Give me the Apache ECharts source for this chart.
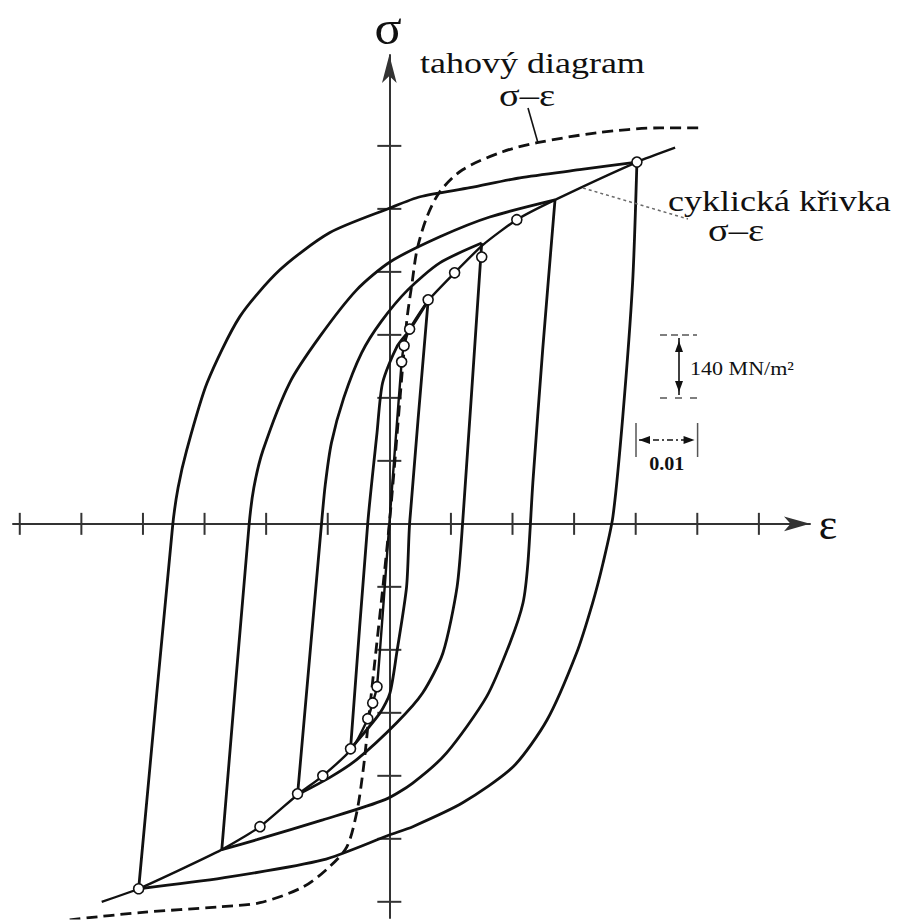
<!DOCTYPE html>
<html>
<head>
<meta charset="utf-8">
<script src="https://cdn.jsdelivr.net/npm/echarts/dist/echarts.min.js"></script>
<style>
html,body{margin:0;padding:0;background:#fff;}
#chart{width:897px;height:922px;}
</style>
</head>
<body>
<div id="chart"></div>
<script>
// strain (-) on x, stress (MN/m2) on y
const xTicks = [-0.06,-0.05,-0.04,-0.03,-0.02,-0.01,0.01,0.02,0.03,0.04,0.05,0.06]
const yTicks = [-840,-700,-560,-420,-280,-140,140,280,420,560,700,840]

// tahovy diagram (dashed)
const tensileCurve = [[-0.0519,-880],[-0.0405,-864],[-0.0275,-851],[-0.0210,-842],[-0.0140,-807],[-0.0097,-762],[-0.0069,-718],[-0.0053,-642],[-0.0043,-553],[-0.0037,-480],[-0.0035,-451],[0,0],[0.0028,447],[0.0037,536],[0.0045,609],[0.0061,682],[0.0082,738],[0.0119,787],[0.0184,827],[0.0240,847],[0.0337,869],[0.0439,880],[0.0504,880]]

// cyklicka krivka
const cyclicCurve = [[-0.0467,-840],[-0.0407,-811],[-0.0272,-724],[-0.0210,-673],[-0.0149,-602],[-0.0108,-560],[-0.0061,-500],[-0.0035,-433],[-0.0027,-398],[-0.0020,-362],[0,0],[0.0020,360],[0.0024,396],[0.0033,433],[0.0063,496],[0.0106,558],[0.0152,620],[0.0207,676],[0.0269,720],[0.0402,804],[0.0464,836]]
const cyclicPoints = [[0.0402,804],[0.0207,676],[0.0150,593],[0.0106,558],[0.0063,498],[0.0033,433],[0.0024,396],[0.0020,360],[-0.0020,-362],[-0.0027,-398],[-0.0035,-433],[-0.0063,-500],[-0.0108,-560],[-0.0149,-600],[-0.0210,-673],[-0.0407,-811]]

// hysterezni smycky
const loopADown = [[0.0402,804],[0.0395,536],[0.0379,238],[0.0363,16],[0.0347,-87],[0.0330,-176],[0.0304,-287],[0.0256,-436],[0.0201,-540],[0.0119,-620],[0.0038,-673],[0.0001,-691],[-0.0108,-747],[-0.0270,-787],[-0.0407,-811]]
const loopAUp = [[-0.0407,-811],[-0.0352,-7],[-0.0343,80],[-0.0329,164],[-0.0296,313],[-0.0243,460],[-0.0178,564],[-0.0097,647],[0.0001,702],[0.0050,727],[0.0131,747],[0.0212,769],[0.0309,787],[0.0402,804]]
const loopBDown = [[0.0269,720],[0.0249,387],[0.0233,91],[0.0225,-87],[0.0217,-176],[0.0196,-264],[0.0158,-384],[0.0093,-509],[0.0038,-576],[-0.0007,-613],[-0.0108,-658],[-0.0215,-702],[-0.0272,-724]]
const loopBUp = [[-0.0272,-724],[-0.0228,-7],[-0.0220,80],[-0.0205,164],[-0.0162,313],[-0.0113,416],[-0.0053,520],[0.0001,582],[0.0082,638],[0.0163,682],[0.0269,720]]
const loopCDown = [[0.0150,624],[0.0119,2],[0.0110,-140],[0.0087,-287],[0.0054,-376],[0.0012,-442],[-0.0053,-524],[-0.0097,-564],[-0.0149,-602]]
const loopCUp = [[-0.0149,-602],[-0.0110,2],[-0.0104,87],[-0.0094,180],[-0.0074,280],[-0.0045,380],[-0.0013,450],[0.0030,520],[0.0082,580],[0.0150,624]]
const loopDDown = [[0.0063,496],[0.0033,2],[0.0028,-140],[0.0012,-287],[0.0001,-376],[-0.0015,-420],[-0.0063,-500]]
const loopDUp = [[-0.0063,-500],[-0.0035,2],[-0.0020,202],[-0.0011,313],[0.0012,393],[0.0033,431],[0.0063,496]]

const barStrain = 0.01
const barStress = 140

const ink = '#111'
const axisInk = '#333'
const serif = '"Liberation Serif", "Times New Roman", serif'

let chart = echarts.init(document.getElementById('chart'), null, {renderer:'svg'})

function branch(data){
  return {
    type:'line', data, showSymbol:false, smooth:0.25, silent:true, z:3,
    lineStyle:{color:ink, width:2.8}
  }
}

function tickSeries(values, vertical){
  return {
    type:'custom', silent:true, z:2, clip:false,
    data: values.map(v => vertical ? [0, v] : [v, 0]),
    renderItem(params, api){
      const p = api.coord([api.value(0), api.value(1)])
      const shape = vertical
        ? {x1:p[0]-12, y1:p[1], x2:p[0]+12, y2:p[1]}
        : {x1:p[0], y1:p[1]-11, x2:p[0], y2:p[1]+11}
      return {type:'line', shape, style:{stroke:axisInk, lineWidth:2}}
    }
  }
}

const loops = [loopADown, loopAUp, loopBDown, loopBUp, loopCDown, loopCUp, loopDDown, loopDUp]

let option = {
  animation:false,
  grid:{left:13, right:87, top:55, bottom:4, outerBoundsMode:'none'},
  xAxis:{
    type:'value', min:-0.0611, max:0.0683,
    axisLine:{onZero:true, symbol:['none','arrow'], symbolSize:[11,26], lineStyle:{color:axisInk, width:2}},
    axisTick:{show:false}, axisLabel:{show:false}, splitLine:{show:false}
  },
  yAxis:{
    type:'value', min:-876, max:1042,
    axisLine:{onZero:true, symbol:['none','arrow'], symbolSize:[11,28], lineStyle:{color:axisInk, width:2}},
    axisTick:{show:false}, axisLabel:{show:false}, splitLine:{show:false}
  },
  series:[
    tickSeries(xTicks, false),
    tickSeries(yTicks, true),
    {
      type:'line', data:tensileCurve, showSymbol:false, smooth:0.3, silent:true, z:3,
      lineStyle:{color:ink, width:2.8, type:[11,6]}
    },
    ...loops.map(branch),
    {
      type:'line', data:cyclicCurve, showSymbol:false, smooth:0.2, silent:true, z:4,
      lineStyle:{color:ink, width:2.4}
    },
    {
      type:'scatter', data:cyclicPoints, symbol:'circle', symbolSize:10, silent:true, z:5,
      itemStyle:{color:'#fff', opacity:1, borderColor:ink, borderWidth:1.6}
    }
  ]
}
chart.setOption(option)

// popisky a meritka
function label(text, x, y, size, sx, align, weight){
  return {
    type:'text', x, y, scaleX:sx, z:10,
    style:{
      text, fill:ink,
      font:(weight || 'normal') + ' ' + size + 'px ' + serif,
      textAlign:align || 'left', align:align || 'left',
      textVerticalAlign:'middle', verticalAlign:'middle'
    }
  }
}
function seg(x1, y1, x2, y2, extra){
  return Object.assign({type:'line', z:10, shape:{x1, y1, x2, y2}, style:{stroke:ink, lineWidth:1.6}}, extra)
}
function head(tip, dir){
  const [x, y] = tip, l = 11, w = 4
  const pts = {
    up:[[x,y],[x-w,y+l],[x+w,y+l]],
    down:[[x,y],[x-w,y-l],[x+w,y-l]],
    left:[[x,y],[x+l,y-w],[x+l,y+w]],
    right:[[x,y],[x-l,y-w],[x-l,y+w]]
  }[dir]
  return {type:'polygon', z:10, shape:{points:pts}, style:{fill:ink}}
}

const o = chart.convertToPixel({gridIndex:0}, [0, 0])
const b = chart.convertToPixel({gridIndex:0}, [barStrain, barStress])
const barW = b[0] - o[0]
const barH = o[1] - b[1]

const vx = 679, vTop = 335
const hy = 440, hLeft = 636

chart.setOption({
  graphic:[
    label('σ', 388, 28, 48, 1.05, 'center'),
    label('ε', 828, 524, 44, 1, 'center'),
    label('tahový diagram', 420, 63, 30, 1.2),
    label('σ–ε', 527, 96, 32, 1.2, 'center'),
    label('cyklická křivka', 668, 201, 30, 1.2),
    label('σ–ε', 736, 231, 32, 1.2, 'center'),
    label('140 MN/m²', 690, 369, 19, 1.16),
    label('0.01', hLeft + barW/2, 464, 18, 1.12, 'center', 'bold'),
    seg(528, 108, 538, 143),
    seg(583, 188, 688, 219, {style:{stroke:'#6a6a6a', lineWidth:1.5, lineDash:[3,3]}}),
    // svisle meritko
    seg(vx-19, vTop, vx+18, vTop, {style:{stroke:'#555', lineWidth:1.3, lineDash:[7,4]}}),
    seg(vx-19, vTop+barH, vx+18, vTop+barH, {style:{stroke:'#555', lineWidth:1.3, lineDash:[7,8]}}),
    seg(vx, vTop+3, vx, vTop+barH-3),
    head([vx, vTop+6], 'up'),
    head([vx, vTop+barH-6], 'down'),
    // vodorovne meritko
    seg(hLeft, hy-17, hLeft, hy+17, {style:{stroke:'#555', lineWidth:1.5}}),
    seg(hLeft+barW, hy-17, hLeft+barW, hy+17, {style:{stroke:'#555', lineWidth:1.5}}),
    seg(hLeft+3, hy, hLeft+barW-3, hy, {style:{stroke:ink, lineWidth:1.6, lineDash:[6,3,2,3]}}),
    head([hLeft+3, hy], 'left'),
    head([hLeft+barW-3, hy], 'right')
  ]
})
</script>
</body>
</html>
